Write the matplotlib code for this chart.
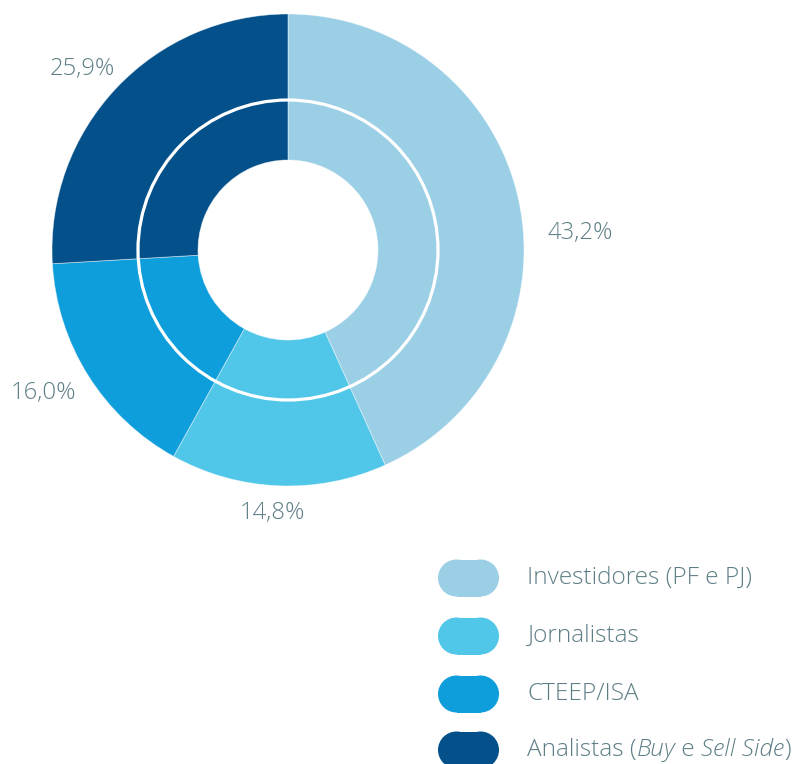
import matplotlib
matplotlib.use("Agg")
import matplotlib.pyplot as plt
from matplotlib.patches import Rectangle, Circle

categories = ["Investidores (PF e PJ)", "Jornalistas", "CTEEP/ISA", "Analistas (Buy e Sell Side)"]
values = [43.2, 14.8, 16.0, 25.9]
value_labels = ["43,2%", "14,8%", "16,0%", "25,9%"]
colors = ["#9acfe6", "#50c6e8", "#0e9edb", "#03508a"]
label_pos = [(1.237, 0.072), (-0.064, -1.114), (-1.034, -0.606), (-0.873, 0.767)]

TXT = "#5e7e86"
FONT = "Open Sans"
FS = 17.6
W, H = 805, 764
fig = plt.figure(figsize=(W / 100, H / 100), dpi=100)

cx, cy, R = 288, 250, 236
ax = fig.add_axes([(cx - R) / W, (H - cy - R) / H, 2 * R / W, 2 * R / H])
ax.pie(values, colors=colors, startangle=90, counterclock=False, radius=1,
       wedgeprops=dict(width=1 - 90 / 236, edgecolor=(1, 1, 1, 0.5), linewidth=0.6))
ax.add_patch(Circle((0, 0), 150 / 236, fill=False, edgecolor="white", linewidth=2.3))
ax.set_xlim(-1, 1)
ax.set_ylim(-1, 1)
ax.set_aspect("equal")
ax.axis("off")
for (x, y), t in zip(label_pos, value_labels):
    ax.text(x, y, t, ha="center", va="center", fontsize=17.2, color=TXT,
            family=FONT, fontweight="light", clip_on=False)

# legend
lax = fig.add_axes([0, 0, 1, 1])
lax.set_xlim(0, W)
lax.set_ylim(H, 0)
lax.axis("off")
ys = [578, 636, 694, 750]
pw, ph = 61, 37
for yc, c in zip(ys, colors):
    r = ph / 2
    lax.add_patch(Rectangle((438 + r, yc - r), pw - 2 * r, ph, facecolor=c, edgecolor="none"))
    lax.add_patch(Circle((438 + r, yc), r, facecolor=c, edgecolor="none"))
    lax.add_patch(Circle((438 + pw - r, yc), r, facecolor=c, edgecolor="none"))

fig.canvas.draw()
renderer = fig.canvas.get_renderer()
for yc, name in zip(ys, categories):
    if name.startswith("Analistas"):
        parts = [("Analistas (", "normal"), ("Buy", "italic"), (" e ", "normal"),
                 ("Sell Side", "italic"), (")", "normal")]
    else:
        parts = [(name, "normal")]
    x = 527
    for s, st in parts:
        t = lax.text(x, yc, s, ha="left", va="center", fontsize=FS, color=TXT,
                     family=FONT, style=st, fontweight="light")
        bb = t.get_window_extent(renderer)
        x += bb.width
fig.savefig("out.png", dpi=100)
